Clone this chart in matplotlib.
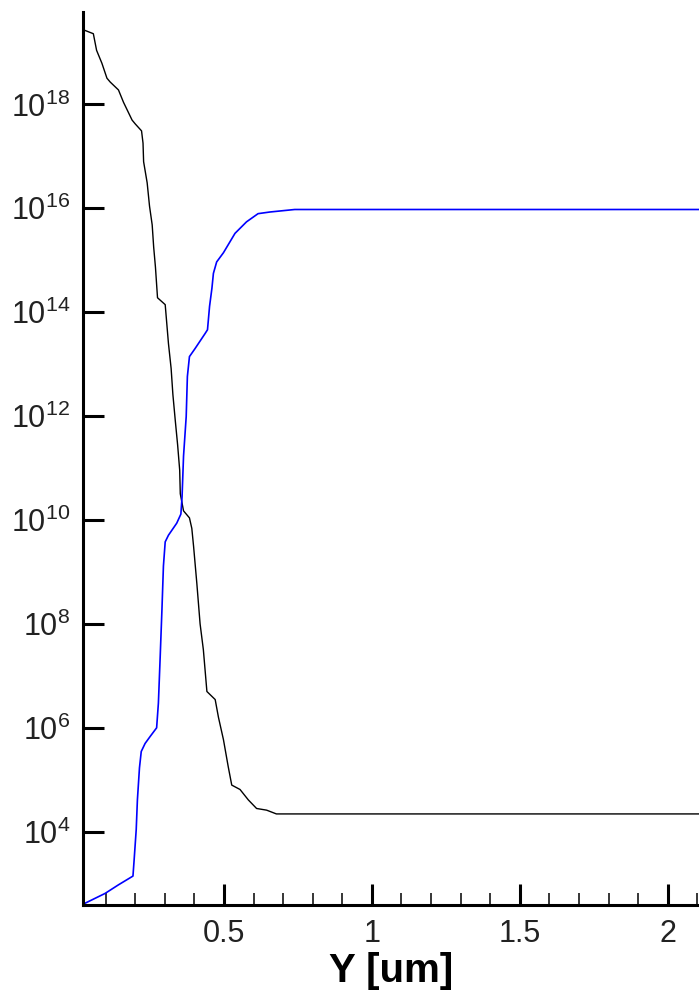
import math
import matplotlib
matplotlib.use("Agg")
import matplotlib.pyplot as plt
from matplotlib.ticker import FixedLocator, MultipleLocator, FuncFormatter

# black profile (falls from ~1e19 to ~2e4)
x_black = [0.027, 0.058, 0.069, 0.087, 0.104, 0.115, 0.143, 0.160, 0.189, 0.200,
           0.221, 0.226, 0.228, 0.240, 0.248, 0.257, 0.262, 0.268, 0.275, 0.301,
           0.312, 0.321, 0.327, 0.335, 0.343, 0.350, 0.352, 0.363, 0.383, 0.391,
           0.397, 0.408, 0.419, 0.430, 0.442, 0.470, 0.481, 0.498, 0.514, 0.526,
           0.554, 0.582, 0.610, 0.644, 0.677, 0.823, 2.11]
y_black = [2.7e19, 2.3e19, 1.1e19, 6.2e18, 3.2e18, 2.7e18, 1.9e18, 1.1e18, 5.0e17, 4.2e17,
           3.1e17, 1.8e17, 7.9e16, 3.1e16, 1.1e16, 4.8e15, 1.8e15, 7.4e14, 1.9e14, 1.4e14,
           2.5e13, 8.3e12, 2.6e12, 8.3e11, 2.8e11, 9.1e10, 3.2e10, 1.5e10, 1.1e10, 6.9e9,
           3.1e9, 6.0e8, 1.0e8, 3.2e7, 5.0e6, 3.5e6, 1.6e6, 5.9e5, 1.8e5, 7.9e4,
           6.5e4, 4.1e4, 2.8e4, 2.6e4, 2.2e4, 2.2e4, 2.2e4]

# blue profile (rises from ~4e2 to ~1e16)
x_blue = [0.030, 0.098, 0.143, 0.192, 0.196, 0.203, 0.207, 0.214, 0.220, 0.233,
          0.250, 0.272, 0.278, 0.284, 0.290, 0.295, 0.301, 0.312, 0.340, 0.354,
          0.358, 0.363, 0.372, 0.376, 0.383, 0.402, 0.436, 0.444, 0.451, 0.459,
          0.464, 0.475, 0.498, 0.537, 0.576, 0.615, 0.655, 0.739, 2.11]
y_blue = [4.2e2, 6.5e2, 9.5e2, 1.4e3, 2.9e3, 1.1e4, 4.1e4, 1.7e5, 3.5e5, 5.0e5,
          6.8e5, 1.0e6, 3.0e6, 2.3e7, 1.9e8, 1.3e9, 3.8e9, 5.1e9, 8.7e9, 1.3e10,
          2.8e10, 1.7e11, 9.8e11, 5.8e12, 1.4e13, 2.0e13, 3.9e13, 4.6e13, 1.3e14, 2.9e14,
          5.6e14, 9.3e14, 1.4e15, 3.3e15, 5.5e15, 7.9e15, 8.5e15, 9.5e15, 9.5e15]

y_ticks = [1e4, 1e6, 1e8, 1e10, 1e12, 1e14, 1e16, 1e18]
x_ticks = [0.5, 1, 1.5, 2]
x_tick_labels = ["0.5", "1", "1.5", "2"]

plt.rcParams['font.family'] = ['Liberation Sans', 'DejaVu Sans']
plt.rcParams['mathtext.default'] = 'regular'

fig = plt.figure(figsize=(6.99, 9.90), dpi=100)
ax = fig.add_axes([0.1183, 0.0859, 0.8817, 0.902])

ax.plot(x_black, y_black, color='black', lw=1.0)
ax.plot(x_blue, y_blue, color='#0000ff', lw=1.2)

ax.set_yscale('log')
ax.set_xlim(0.022, 2.106)
ax.set_ylim(10**2.59, 10**19.78)

ax.yaxis.set_major_locator(FixedLocator(y_ticks))
ax.yaxis.set_minor_locator(FixedLocator([]))
ax.yaxis.set_major_formatter(FuncFormatter(lambda v, p: r'$10^{%d}$' % round(math.log10(v))))

ax.set_xticks(x_ticks)
ax.set_xticklabels(x_tick_labels)
ax.xaxis.set_minor_locator(MultipleLocator(0.1))

for s in ['top', 'right']:
    ax.spines[s].set_visible(False)
for s in ['left', 'bottom']:
    ax.spines[s].set_linewidth(2.2)

ax.tick_params(axis='both', which='major', direction='in', length=15, width=2.2,
               labelsize=22, pad=10, labelcolor='#222222')
ax.tick_params(axis='x', which='minor', direction='in', length=8.5, width=1.1)
ax.tick_params(axis='y', which='major', pad=9)

ax.set_xlabel('Y [um]', fontsize=29, fontweight='bold', labelpad=2)

fig.savefig("out.png", dpi=100)
